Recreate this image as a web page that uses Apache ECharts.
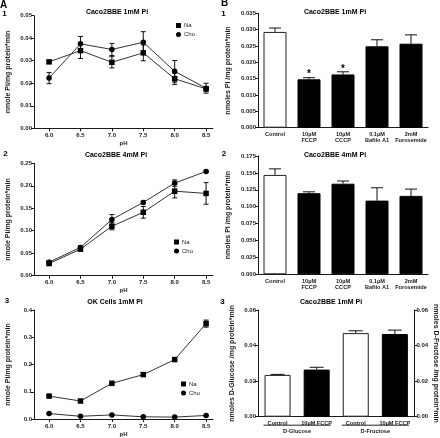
<!DOCTYPE html>
<html><head><meta charset="utf-8">
<script src="https://cdn.jsdelivr.net/npm/echarts@6/dist/echarts.min.js"></script>
<style>html,body{margin:0;padding:0;background:#fff}#c{width:440px;height:438px}</style>
</head><body><div id="c"></div>
<script>
// ---- data ----
const pH = [6.0, 6.5, 7.0, 7.5, 8.0, 8.5];
const a1Na = [0.0295, 0.0345, 0.0293, 0.0335, 0.0220, 0.0175];
const a1NaErr = [0.0005, 0.0035, 0.0025, 0.0035, 0.0025, 0.0010];
const a1Cho = [0.0223, 0.0375, 0.0350, 0.0382, 0.0253, 0.0178];
const a1ChoErr = [0.0025, 0.0033, 0.0027, 0.0047, 0.0048, 0.0022];
const a2Na = [0.027, 0.059, 0.110, 0.141, 0.188, 0.183];
const a2NaErr = [0.004, 0.003, 0.008, 0.013, 0.015, 0.024];
const a2Cho = [0.030, 0.063, 0.125, 0.163, 0.206, 0.232];
const a2ChoErr = [0.004, 0.004, 0.011, 0.003, 0.007, 0.002];
const a3Na = [0.084, 0.066, 0.131, 0.163, 0.218, 0.350];
const a3NaErr = [0.003, 0.003, 0.003, 0.007, 0.003, 0.013];
const a3Cho = [0.020, 0.010, 0.015, 0.008, 0.007, 0.013];
const a3ChoErr = [0.002, 0.002, 0.002, 0.002, 0.002, 0.002];

const bCats = ['Control', '10µM\nFCCP', '10µM\nCCCP', '0.1µM\nBafilo A1', '2mM\nFurosemide'];
const b1Vals = [0.0293, 0.0148, 0.0163, 0.0249, 0.0257];
const b1Err = [0.0012, 0.0005, 0.0008, 0.0020, 0.0027];
const b1Stars = ['', '*', '*', '', ''];
const b2Vals = [0.147, 0.120, 0.134, 0.109, 0.116];
const b2Err = [0.009, 0.002, 0.004, 0.019, 0.010];

const b3Cats = ['Control', '10µM FCCP', 'Control', '10µM FCCP'];
const b3Glucose = [0.0235, 0.0265];
const b3GlucoseErr = [0.0003, 0.0013];
const b3Fructose = [0.0470, 0.0465];
const b3FructoseErr = [0.0013, 0.0022];
const b3Groups = ['D-Glucose', 'D-Fructose'];
const b3GroupSpans = [[0, 1], [2, 3]];

// ---- helpers ----
const FONT = '"Liberation Sans", Arial, sans-serif';
const INK = '#1a1a1a';
const tickLbl = {fontSize: 6, fontWeight: 'bold', color: INK, fontFamily: FONT};
const nameStyle = {fontSize: 7, fontWeight: 'bold', color: INK, fontFamily: FONT};

function aXAxis(gi) {
  return {
    type: 'value', gridIndex: gi, min: 5.76, max: 8.61,
    axisLine: {lineStyle: {color: INK, width: 1}},
    axisTick: {customValues: pH, length: 3, lineStyle: {color: INK}},
    axisLabel: Object.assign({customValues: pH, formatter: v => v.toFixed(1), margin: 4}, tickLbl),
    splitLine: {show: false},
    name: 'pH', nameLocation: 'middle', nameGap: 12, nameTextStyle: Object.assign({}, nameStyle, {fontSize: 6})
  };
}
function yAxis(gi, max, interval, digits, name, gap, pos) {
  return {
    type: 'value', gridIndex: gi, min: 0, max: max, interval: interval,
    position: pos || 'left',
    axisLine: {show: true, lineStyle: {color: INK, width: 1}},
    axisTick: {show: true, length: 3, lineStyle: {color: INK}},
    axisLabel: Object.assign({formatter: v => v.toFixed(digits), margin: 2}, tickLbl),
    splitLine: {show: false},
    name: name, nameLocation: 'middle', nameGap: gap,
    nameRotate: pos === 'right' ? -90 : 90, nameTextStyle: nameStyle
  };
}
function bXAxis(gi, cats) {
  return {
    type: 'category', gridIndex: gi, data: cats,
    axisLine: {lineStyle: {color: INK, width: 1}},
    axisTick: {show: false},
    axisLabel: Object.assign({margin: 4, interval: 0, lineHeight: 6}, tickLbl, {fontSize: 5.6})
  };
}
function errSeries(xi, yi, xs, vals, errs, cap, upOnly) {
  return {
    type: 'custom', xAxisIndex: xi, yAxisIndex: yi, z: 1, silent: true,
    data: xs.map((x, i) => [x, vals[i], errs[i]]),
    renderItem: function (params, api) {
      const x = api.value(0), v = api.value(1), e = api.value(2);
      const t = api.coord([x, v + e]);
      const b = api.coord([x, upOnly ? v : v - e]);
      const st = {stroke: '#111', lineWidth: 1};
      const kids = [
        {type: 'line', shape: {x1: t[0], y1: t[1], x2: b[0], y2: b[1]}, style: st},
        {type: 'line', shape: {x1: t[0] - cap / 2, y1: t[1], x2: t[0] + cap / 2, y2: t[1]}, style: st}
      ];
      if (!upOnly) kids.push({type: 'line', shape: {x1: b[0] - cap / 2, y1: b[1], x2: b[0] + cap / 2, y2: b[1]}, style: st});
      return {type: 'group', children: kids};
    }
  };
}
function lineSeries(gi, name, vals, sym) {
  return {
    type: 'line', name: name, xAxisIndex: gi, yAxisIndex: gi, z: 3,
    data: pH.map((x, i) => [x, vals[i]]),
    symbol: sym, symbolSize: 5.5,
    itemStyle: {color: '#000'}, lineStyle: {color: '#333', width: 1}, silent: true
  };
}
function barColors(vals) {
  return vals.map((v, i) => ({
    value: v,
    itemStyle: i === 0 ? {color: '#fff', borderColor: '#222', borderWidth: 1} : {color: '#000', borderColor: '#000', borderWidth: 1}
  }));
}
function legend(left, top) {
  return {
    left: left, top: top, orient: 'vertical', padding: 0, itemGap: 3,
    itemWidth: 5, itemHeight: 5, selectedMode: false,
    textStyle: {fontSize: 6, color: INK, fontFamily: FONT, padding: [0, 0, 0, -2]},
    data: [{name: 'Na', icon: 'rect'}, {name: 'Cho', icon: 'circle'}]
  };
}
function txt(x, y, s, size, align) {
  return {type: 'text', x: x, y: y, silent: true,
    style: {text: s, fontSize: size, fontWeight: 'bold', fontFamily: FONT, fill: '#000',
      align: align || 'center', verticalAlign: 'middle'}};
}

const option = {
  animation: false,
  backgroundColor: '#fff',
  grid: [
    {left: 34, top: 15.7, width: 179, height: 112.6},
    {left: 34, top: 163.3, width: 179, height: 112.4},
    {left: 34, top: 310, width: 179, height: 111.7},
    {left: 258, top: 13.3, width: 170, height: 114.4},
    {left: 258, top: 156, width: 170, height: 118.3},
    {left: 258, top: 310, width: 159, height: 106.7}
  ],
  xAxis: [aXAxis(0), aXAxis(1), aXAxis(2), bXAxis(3, bCats), bXAxis(4, bCats), bXAxis(5, b3Cats)],
  yAxis: [
    yAxis(0, 0.05, 0.01, 2, 'nmole Pi/mg protein*min', 22),
    yAxis(1, 0.25, 0.05, 2, 'nmole Pi/mg protein*min', 22),
    yAxis(2, 0.4, 0.1, 1, 'nmole Pi/mg protein*min', 22),
    yAxis(3, 0.035, 0.005, 3, 'nmoles Pi /mg protein*min', 26),
    yAxis(4, 0.175, 0.025, 3, 'nmoles Pi /mg protein*min', 26),
    yAxis(5, 0.06, 0.02, 2, 'nmoles D-Glucose /mg protein*min', 22),
    yAxis(5, 0.06, 0.02, 2, 'nmoles D-Fructose /mg protein*min', 16, 'right')
  ],
  legend: [legend(176, 22.5), legend(174, 239), legend(181, 381)],
  series: [
    errSeries(0, 0, pH, a1Na, a1NaErr, 5, false),
    errSeries(0, 0, pH, a1Cho, a1ChoErr, 5, false),
    lineSeries(0, 'Na', a1Na, 'rect'),
    lineSeries(0, 'Cho', a1Cho, 'circle'),
    errSeries(1, 1, pH, a2Na, a2NaErr, 5, false),
    errSeries(1, 1, pH, a2Cho, a2ChoErr, 5, false),
    lineSeries(1, 'Na', a2Na, 'rect'),
    lineSeries(1, 'Cho', a2Cho, 'circle'),
    errSeries(2, 2, pH, a3Na, a3NaErr, 5, false),
    errSeries(2, 2, pH, a3Cho, a3ChoErr, 5, false),
    lineSeries(2, 'Na', a3Na, 'rect'),
    lineSeries(2, 'Cho', a3Cho, 'circle'),
    {
      type: 'bar', xAxisIndex: 3, yAxisIndex: 3, barWidth: 23, z: 2, silent: true,
      data: barColors(b1Vals),
      label: {show: true, position: 'top', distance: 0, formatter: p => b1Stars[p.dataIndex],
        fontSize: 10, fontWeight: 'bold', color: '#000', fontFamily: FONT}
    },
    errSeries(3, 3, bCats.map((c, i) => i), b1Vals, b1Err, 12, true),
    {type: 'bar', xAxisIndex: 4, yAxisIndex: 4, barWidth: 23, z: 2, silent: true, data: barColors(b2Vals)},
    errSeries(4, 4, bCats.map((c, i) => i), b2Vals, b2Err, 12, true),
    {type: 'bar', xAxisIndex: 5, yAxisIndex: 5, barWidth: 26, barGap: '-100%', z: 2, silent: true,
      data: barColors(b3Glucose).concat(['-', '-'])},
    {type: 'bar', xAxisIndex: 5, yAxisIndex: 6, barWidth: 26, barGap: '-100%', z: 2, silent: true,
      data: ['-', '-'].concat(barColors(b3Fructose))},
    errSeries(5, 5, [0, 1], b3Glucose, b3GlucoseErr, 14, true),
    errSeries(5, 6, [2, 3], b3Fructose, b3FructoseErr, 14, true),
    {
      type: 'custom', xAxisIndex: 5, yAxisIndex: 5, silent: true, clip: false,
      data: b3GroupSpans,
      renderItem: function (params, api) {
        const p1 = api.coord([api.value(0), 0]);
        const p2 = api.coord([api.value(1), 0]);
        const y = p1[1] + 8.5;
        return {type: 'group', children: [
          {type: 'line', shape: {x1: p1[0] - 14, y1: y, x2: p2[0] + 14, y2: y}, style: {stroke: '#222', lineWidth: 1}},
          {type: 'text', style: {text: b3Groups[params.dataIndex], x: (p1[0] + p2[0]) / 2, y: y + 6,
            fontSize: 5.6, fontWeight: 'bold', fontFamily: FONT, fill: INK, align: 'center', verticalAlign: 'middle'}}
        ]};
      }
    }
  ],
  graphic: [
    txt(0, 5, 'A', 10, 'left'),
    txt(221, 3, 'B', 10, 'left'),
    txt(4.5, 14, '1', 8), txt(5.5, 154, '2', 8), txt(7, 301, '3', 8),
    txt(223.5, 13.5, '1', 8), txt(224, 154, '2', 8), txt(222.5, 302, '3', 8),
    txt(117, 12, 'Caco2BBE 1mM Pi', 7),
    txt(116, 155, 'Caco2BBE 4mM Pi', 7),
    txt(115, 302, 'OK Cells 1mM Pi', 7),
    txt(335, 12, 'Caco2BBE 1mM Pi', 7),
    txt(335, 155, 'Caco2BBE 4mM Pi', 7),
    txt(331, 302, 'Caco2BBE 1mM Pi', 7)
  ]
};
const chart = echarts.init(document.getElementById('c'), null, {renderer: 'canvas'});
chart.setOption(option);
</script></body></html>
